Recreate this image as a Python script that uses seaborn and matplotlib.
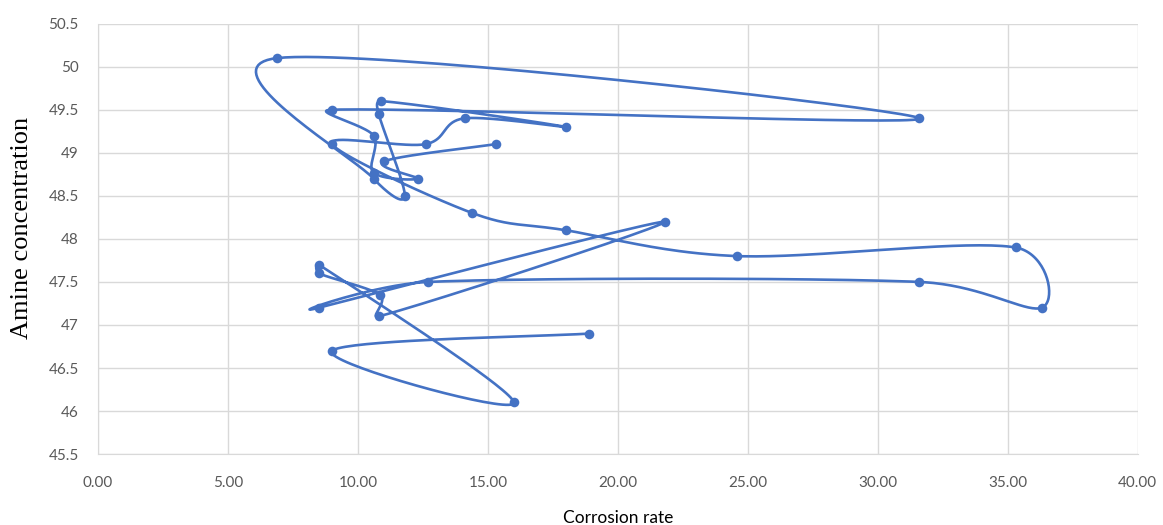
# corrosion rate vs amine concentration - excel style smoothed scatter

import numpy as np
import pandas as pd
import matplotlib.pyplot as plt
import seaborn as sns

# points in the order the line joins them
corrosion = [18.9, 9.0, 16.0, 8.5, 8.5, 10.85, 10.8, 21.8, 8.5, 12.7,
             31.6, 36.3, 35.3, 24.6, 18.0, 14.4, 9.0, 12.6, 14.1, 18.0,
             10.9, 10.8, 11.8, 10.6, 6.9, 31.6, 9.0, 10.6, 10.6, 12.3,
             11.0, 15.3]
amine = [46.9, 46.7, 46.1, 47.7, 47.6, 47.35, 47.1, 48.2, 47.2, 47.5,
         47.5, 47.2, 47.9, 47.8, 48.1, 48.3, 49.1, 49.1, 49.4, 49.3,
         49.6, 49.45, 48.5, 48.7, 50.1, 49.4, 49.5, 49.2, 48.77, 48.7,
         48.9, 49.1]

x_ticks = np.arange(0, 40.01, 5)
y_ticks = np.arange(45.5, 50.51, 0.5)
y_ticklabels = ["45.5", "46", "46.5", "47", "47.5", "48", "48.5", "49", "49.5", "50", "50.5"]

line_col = "#4472C4"
grid_col = "#D9D9D9"


def smooth(xs, ys, n=40):
    # bezier through the points, like excel "smoothed line" (done in screen units)
    # control arms are 1/6 of the neighbour chord, but never more than half the segment
    sx, sy = 1040 / 40, 430 / 5
    p = np.column_stack([np.array(xs) * sx, np.array(ys) * sy])
    out = []
    t = np.linspace(0, 1, n)[:, None]
    for i in range(len(p) - 1):
        p0 = p[i - 1] if i > 0 else p[i]
        p3 = p[i + 2] if i + 2 < len(p) else p[i + 1]
        seg_len = np.linalg.norm(p[i + 1] - p[i])
        a1 = (p[i + 1] - p0) / 6
        a2 = (p3 - p[i]) / 6
        for a in (a1, a2):
            la = np.linalg.norm(a)
            if la > seg_len / 2:
                a *= (seg_len / 2) / la
        c1 = p[i] + a1
        c2 = p[i + 1] - a2
        seg = (1 - t) ** 3 * p[i] + 3 * (1 - t) ** 2 * t * c1 + 3 * (1 - t) * t ** 2 * c2 + t ** 3 * p[i + 1]
        out.append(seg if i == 0 else seg[1:])
    out = np.vstack(out)
    return out[:, 0] / sx, out[:, 1] / sy


df = pd.DataFrame({"Corrosion rate": corrosion, "Amine concentration": amine})
cx, cy = smooth(corrosion, amine)
curve = pd.DataFrame({"x": cx, "y": cy})

sns.set_style("white")
fig = plt.figure(figsize=(11.63, 5.25), dpi=100)
ax = fig.add_axes([0.0843, 0.135, 0.894, 0.82])

sns.lineplot(data=curve, x="x", y="y", sort=False, estimator=None,
             color=line_col, linewidth=1.9, ax=ax)
sns.scatterplot(data=df, x="Corrosion rate", y="Amine concentration",
                color=line_col, s=48, linewidth=0, zorder=3, ax=ax)

ax.set_xlim(0, 40)
ax.set_ylim(45.5, 50.5)
ax.set_xticks(x_ticks)
ax.set_xticklabels([f"{v:.2f}" for v in x_ticks])
ax.set_yticks(y_ticks)
ax.set_yticklabels(y_ticklabels)
ax.grid(True, color=grid_col, linewidth=1)
ax.set_axisbelow(True)
for side in ["top", "right"]:
    ax.spines[side].set_visible(False)
for side in ["left", "bottom"]:
    ax.spines[side].set_color(grid_col)
ax.tick_params(axis="x", length=0, labelsize=11, labelcolor="#595959", pad=16)
ax.tick_params(axis="y", length=0, labelsize=11, labelcolor="#595959", pad=14)
for lbl in ax.get_xticklabels() + ax.get_yticklabels():
    lbl.set_family("Lato")

ax.set_xlabel("Corrosion rate", family="Lato", fontsize=12.5, color="#000000", labelpad=14)
ax.set_ylabel("Amine concentration", family="Liberation Serif", fontsize=19, color="#000000")
ax.yaxis.set_label_coords(-0.063, 0.526)

plt.savefig("out.png", dpi=100)
